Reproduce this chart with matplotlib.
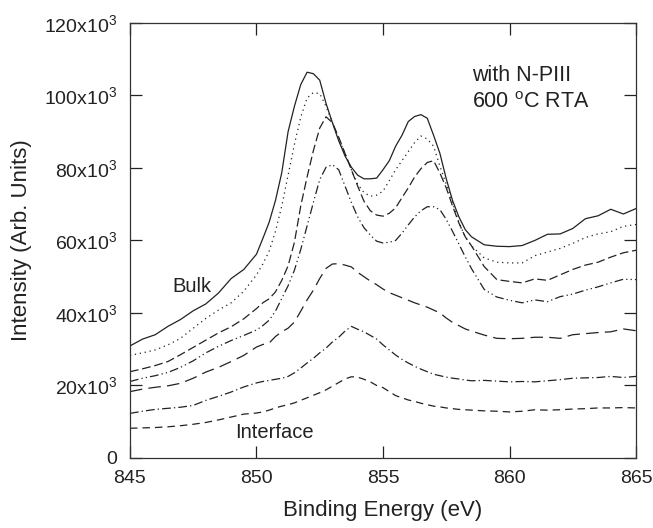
import matplotlib
matplotlib.use("agg")
import matplotlib.pyplot as plt

# binding energy grid (eV), finer around the peaks
energy = [845, 845.5, 846, 846.5, 847, 847.5, 848, 848.5, 849, 849.5, 850,
          850.25, 850.5, 850.75, 851, 851.25, 851.5, 851.75, 852, 852.25, 852.5,
          852.75, 853, 853.25, 853.5, 853.75, 854, 854.25, 854.5, 854.75, 855,
          855.25, 855.5, 855.75, 856, 856.25, 856.5, 856.75, 857, 857.25, 857.5,
          857.75, 858, 858.25, 858.5, 859, 859.5, 860, 860.5, 861, 861.5, 862,
          862.5, 863, 863.5, 864, 864.5, 865]

# intensities in units of 10^3, from bulk (top) to interface (bottom)
bulk = [30.9, 32.8, 34.0, 36.3, 38.2, 40.6, 42.5, 45.5, 49.5, 52.0, 56.2,
        60.5, 65.0, 71.0, 78.7, 90.0, 97.0, 103.0, 106.4, 106.0, 104.2,
        97.8, 92.5, 87.5, 83.3, 80.2, 78.0, 77.0, 77.0, 77.2, 79.5,
        82.0, 86.0, 89.0, 92.8, 94.2, 94.7, 93.7, 89.0, 84.0, 77.0,
        71.0, 66.5, 63.0, 61.0, 58.8, 58.4, 58.3, 58.6, 60.0, 61.7, 61.8,
        63.3, 66.0, 66.8, 68.6, 67.3, 68.8]
depth2 = [28.3, 29.0, 29.8, 31.2, 33.0, 35.8, 38.5, 40.8, 42.8, 46.0, 50.5,
          53.5, 57.0, 62.5, 69.5, 78.0, 86.5, 94.0, 99.3, 100.8, 100.5,
          97.0, 92.5, 88.0, 84.0, 79.5, 75.5, 73.2, 72.2, 72.5, 73.6,
          76.5, 79.5, 82.0, 84.5, 87.0, 88.8, 88.0, 86.0, 80.5, 75.5,
          70.5, 65.0, 61.0, 58.5, 55.2, 54.0, 53.8, 53.8, 55.8, 56.8, 57.8,
          59.2, 60.8, 61.8, 62.4, 63.9, 64.4]
depth3 = [23.8, 24.6, 25.5, 26.6, 28.5, 30.5, 32.5, 34.5, 36.2, 38.4, 41.2,
          42.8, 43.9, 45.8, 49.0, 53.0, 59.5, 69.5, 77.5, 84.8, 91.0,
          94.1, 92.5, 88.5, 84.0, 79.5, 75.0, 70.8, 68.2, 67.0, 66.7,
          67.5, 69.0, 71.8, 74.5, 77.5, 79.8, 81.5, 82.0, 78.6, 74.5,
          69.5, 64.8, 61.0, 58.5, 52.8, 49.2, 48.7, 48.3, 49.4, 49.0, 50.5,
          52.0, 53.2, 54.0, 55.4, 56.6, 57.3]
depth4 = [21.1, 22.0, 22.7, 23.6, 25.0, 26.8, 29.0, 30.8, 32.4, 33.8, 35.3,
          36.5, 38.0, 40.5, 44.0, 47.5, 51.8, 57.5, 64.0, 70.5, 76.8,
          80.2, 80.9, 79.5, 75.0, 70.5, 66.5, 63.5, 61.5, 59.8, 59.3,
          59.5, 60.0, 62.0, 64.3, 66.5, 68.2, 69.3, 69.3, 68.5, 65.8,
          62.5, 59.0, 55.5, 52.2, 46.5, 44.4, 43.5, 42.8, 43.6, 43.1, 44.5,
          45.2, 46.3, 47.2, 48.3, 49.3, 49.2]
depth5 = [18.3, 19.0, 19.5, 19.9, 20.6, 22.0, 23.7, 25.0, 26.6, 28.3, 30.6,
          31.3, 31.7, 33.5, 34.8, 35.8, 37.5, 40.5, 43.6, 46.3, 49.5,
          52.3, 53.5, 53.6, 53.2, 52.7, 51.2, 50.0, 48.8, 47.8, 46.6,
          45.6, 44.9, 44.2, 43.5, 42.8, 42.2, 41.6, 40.8, 40.0, 38.6,
          37.4, 36.5, 35.6, 35.0, 33.9, 33.0, 32.9, 33.0, 33.3, 33.3, 33.0,
          34.0, 34.3, 34.6, 34.8, 35.6, 35.1]
depth6 = [12.3, 12.9, 13.4, 13.7, 14.0, 14.5, 15.9, 17.0, 18.2, 19.6, 20.7,
          21.1, 21.4, 21.7, 22.0, 22.5, 23.5, 24.8, 26.2, 27.5, 29.0,
          30.3, 32.0, 33.3, 35.0, 36.3, 35.5, 34.8, 33.8, 32.8, 31.2,
          29.8, 28.4, 27.2, 26.2, 25.3, 24.5, 23.8, 23.1, 22.7, 22.3,
          22.0, 21.8, 21.5, 21.3, 21.4, 21.2, 21.0, 21.1, 21.0, 21.3, 21.6,
          22.0, 22.1, 22.2, 22.5, 22.2, 22.5]
interface = [8.2, 8.3, 8.4, 8.6, 8.9, 9.3, 9.8, 10.5, 11.3, 12.1, 12.4,
             12.7, 13.2, 13.8, 14.3, 14.7, 15.2, 15.9, 16.6, 17.3, 18.0,
             18.8, 19.8, 20.8, 21.8, 22.4, 22.3, 21.7, 21.0, 20.0, 19.4,
             18.3, 17.2, 16.6, 16.0, 15.6, 15.1, 14.7, 14.3, 14.1, 13.8,
             13.6, 13.4, 13.3, 13.2, 13.0, 12.9, 12.7, 12.9, 13.3, 13.2, 13.3,
             13.5, 13.6, 13.8, 13.8, 13.9, 13.8]

curves = [bulk, depth2, depth3, depth4, depth5, depth6, interface]
styles = ['-', (0, (1, 3)), (0, (7, 3)), (0, (7, 2.5, 1, 2.5, 1, 2.5)),
          (0, (10, 5)), (0, (7, 2.5, 1, 2.5)), (0, (6, 4))]

yticks = [0, 20, 40, 60, 80, 100, 120]
yticklabels = ['0'] + [r'$\mathregular{%dx10^{3}}$' % v for v in yticks[1:]]
xticks = [845, 850, 855, 860, 865]

plt.rcParams['font.family'] = ['Liberation Sans', 'DejaVu Sans']
plt.rcParams['mathtext.fontset'] = 'custom'
plt.rcParams['mathtext.rm'] = 'Liberation Sans'

fig = plt.figure(figsize=(6.53, 5.28), dpi=100)
ax = fig.add_axes([0.199, 0.1326, 0.775, 0.824])

for vals, ls in zip(curves, styles):
    ax.plot(energy, [v * 1000 for v in vals], color='#222222', lw=0.9, linestyle=ls)

ax.set_xlim(845, 865)
ax.set_ylim(0, 120000)
ax.set_xticks(xticks)
ax.set_xticklabels([str(x) for x in xticks])
ax.set_yticks([v * 1000 for v in yticks])
ax.set_yticklabels(yticklabels)
ax.tick_params(direction='in', length=8.5, width=0.9, colors='#222222',
               labelsize=14, top=True, right=True, pad=9)
for s in ax.spines.values():
    s.set_color('#333333')
    s.set_linewidth(0.9)

ax.set_xlabel('Binding Energy (eV)', fontsize=16, color='#222222', labelpad=9)
ax.set_ylabel('Intensity (Arb. Units)', fontsize=16, color='#222222', labelpad=9)

ax.text(0.676, 0.878, 'with N-PIII', transform=ax.transAxes, fontsize=15.5,
        va='center', ha='left', color='#222222')
ax.text(0.676, 0.818, r'600 $\mathregular{^{o}}$C RTA', transform=ax.transAxes,
        fontsize=15.5, va='center', ha='left', color='#222222')
ax.text(847.45, 47200, 'Bulk', fontsize=14.5, ha='center', va='center', color='#222222')
ax.text(850.73, 6900, 'Interface', fontsize=14.5, ha='center', va='center', color='#222222')

plt.savefig('out.png', dpi=100)
plt.close()
